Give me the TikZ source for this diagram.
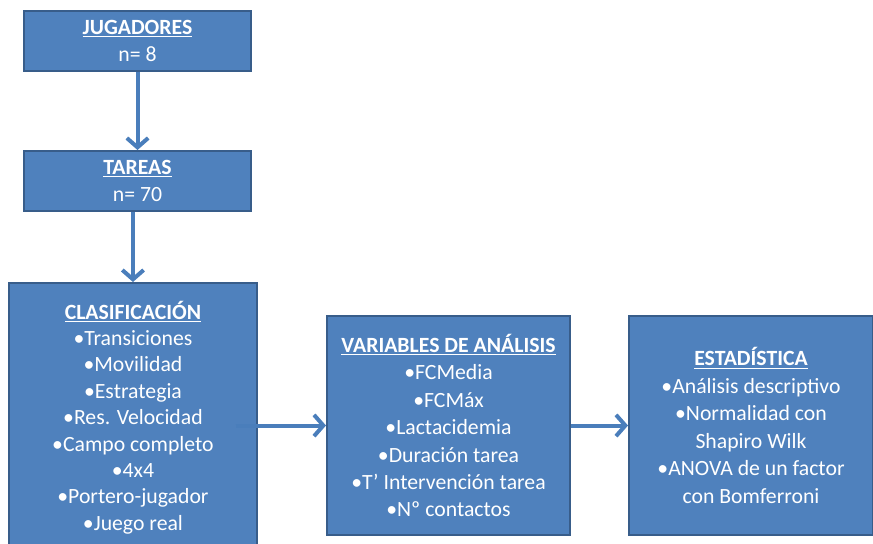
\documentclass[tikz,border=0pt]{standalone}
\usepackage{fontspec}
\setmainfont{Carlito}
\usetikzlibrary{positioning, arrows.meta}
\definecolor{boxblue}{HTML}{4F81BD}
\definecolor{boxline}{HTML}{385D8A}
\definecolor{flowblue}{HTML}{4A7EBB}
\tikzset{
	x=0.75pt, y=-0.75pt, % one unit is one pixel of the reference
	block/.style={draw=boxline, line width=1.5pt, fill=boxblue, text=white, align=center, inner sep=0pt,
		font=\fontsize{16.3}{20.6}\selectfont}, % sets the properties for each box
	flow/.style={draw=flowblue, line width=3pt, -{Straight Barb[length=7pt,width=16pt]}}, % the connecting arrows
}
\newcommand{\titulo}[1]{\underline{\textbf{#1}}}

\begin{document}
\begin{tikzpicture}
	\useasboundingbox (0,0) rectangle (873,543);
	\clip (0,0) rectangle (873,543);
			\node[block, minimum width=170.25pt, minimum height=45pt] at (137.5,41) (jug) {\titulo{JUGADORES}\\n= 8};
			\node[block, minimum width=170.25pt, minimum height=45pt, below=58.5pt of jug] (tar) {\titulo{TAREAS}\\n= 70};
			\node[block, minimum width=186pt, minimum height=201.75pt, below=52.5pt of tar, xshift=-3.4pt,
				font=\fontsize{16.3}{19.8}\selectfont] (clas)
				{\titulo{CLASIFICACIÓN}\\•Transiciones\\•Movilidad\\•Estrategia\\•Res. Velocidad\\•Campo completo\\•4x4\\•Portero-jugador\\•Juego real};
			\node[block, minimum width=182.25pt, minimum height=164.25pt] at (448.5,425.5) (var)
				{\titulo{VARIABLES DE ANÁLISIS}\\•FCMedia\\•FCMáx\\•Lactacidemia\\•Duración tarea\\•T’ Intervención tarea\\•Nº contactos};
			\node[block, minimum width=183pt, minimum height=164.25pt, right=42.75pt of var] (est)
				{\titulo{ESTADÍSTICA}\\•Análisis descriptivo\\•Normalidad con\\Shapiro Wilk\\•ANOVA de un factor\\con Bomferroni};
			\coordinate[xshift=-16.5pt] (c1) at (clas.east |- var.west);
	\draw 	(jug) edge[flow] (tar)
			(tar.south -| clas.north) edge[flow] (clas.north)
			(c1) edge[flow] (var)
			(var) edge[flow] (est);
	\end{tikzpicture}
\end{document}
